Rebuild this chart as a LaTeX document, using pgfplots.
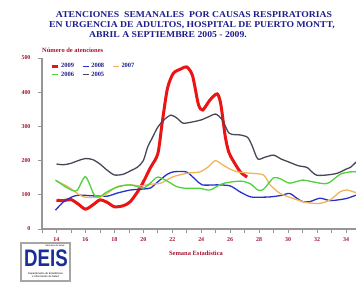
\documentclass[border=0pt]{standalone}
\usepackage{fontspec}
\setmainfont{Liberation Serif}
\setsansfont{Liberation Sans}
\usepackage{pgfplots}
\pgfplotsset{compat=1.18}
\definecolor{ttl}{RGB}{30,30,140}
\definecolor{dred}{RGB}{165,20,45}
\definecolor{c09}{RGB}{235,20,20}
\definecolor{c08}{RGB}{40,50,200}
\definecolor{c07}{RGB}{240,180,90}
\definecolor{c06}{RGB}{80,210,60}
\definecolor{c05}{RGB}{75,70,85}
\definecolor{axg}{RGB}{150,150,150}
\definecolor{logob}{RGB}{25,45,150}
\begin{document}
\begin{tikzpicture}[x=1bp,y=1bp]
\useasboundingbox (-42,-53) rectangle (314,229);
\begin{axis}[
  at={(0,0)}, anchor=south west,
  scale only axis, width=314bp, height=171bp,
  xmin=13, xmax=34.69, ymin=0, ymax=500,
  axis lines=left,
  axis line style={axg, line width=1.2bp, -},
  tick style={axg, line width=0.7bp},
  tick align=outside,
  major tick length=4bp, minor tick length=4bp,
  xtick={14,16,...,34}, minor xtick={13,15,...,33},
  ytick={0,100,...,500},
  /pgf/number format/assume math mode=true,
  ticklabel style={font=\bfseries\fontsize{6}{6}\selectfont, text=dred},
  yticklabel style={xshift=-4bp},
  xticklabel style={yshift=-1bp},
  legend columns=3,
  legend style={draw=none, fill=none, at={(0.025,0.98)}, anchor=north west,
    font=\bfseries\fontsize{6.5}{7}\selectfont, text=ttl,
    inner sep=0pt, row sep=-1.5pt,
    /tikz/every even column/.append style={column sep=6bp}},
  legend cell align=left,
  legend image code/.code={\draw[#1] (0bp,0bp) -- (6bp,0bp);},
  smooth, tension=0.45,
]
\addplot[c09, line width=3bp] coordinates {
(14,84) (14.5,83) (15,86) (15.5,73) (16,58) (16.5,70) (17,85) (17.5,78) (18,65)
(18.6,68) (19.1,80) (19.8,122) (20.5,180) (21,220) (21.3,310) (21.66,410)
(22.07,455) (22.6,468) (23.0,474) (23.4,448) (23.8,365) (24.1,348) (24.6,377)
(25.1,395) (25.35,365) (25.66,270) (25.9,225) (26.2,200) (26.7,167) (27.17,152)};
\addlegendentry{2009}
\addplot[c08, line width=1.3bp] coordinates {
(13.93,55) (14.5,80) (15.2,96) (15.7,99) (16.5,97) (17.5,96) (18.2,105) (19.1,114)
(20,117) (20.5,120) (21,138) (21.65,160) (22.07,167) (22.6,168) (23.03,166)
(23.6,145) (24.07,129) (25.1,129) (26,126) (26.7,108) (27.4,94) (28.1,93) (28.8,94)
(29.5,98) (30.1,104) (30.6,90) (31,80) (31.5,80) (32.2,90) (32.9,83) (33.6,86)
(34.1,90) (34.7,99)};
\addlegendentry{2008}
\addplot[c07, line width=1.3bp] coordinates {
(14,141) (14.76,124) (15.45,104) (15.86,94) (16.5,92) (17.03,93) (17.5,104)
(18.2,124) (19.1,129) (19.8,126) (20.5,131) (21.2,134) (22.07,153) (23.03,163)
(23.9,167) (24.5,182) (24.97,200) (25.5,187) (26,175) (26.5,167) (27.4,163)
(28.3,158) (28.76,129) (29.45,104) (30.3,90) (31.3,77) (32.2,75) (32.9,85)
(33.6,109) (34.07,114) (34.7,106)};
\addlegendentry{2007}
\addplot[c06, line width=1.3bp] coordinates {
(13.93,143) (14.76,120) (15.4,112) (16,153) (16.6,100) (17,95) (17.5,109)
(18.3,124) (19.1,129) (20,120) (20.5,135) (21,152) (21.65,140) (22.3,124)
(22.9,119) (23.9,119) (24.6,114) (25.5,133) (26.7,140) (27.4,132) (27.9,114)
(28.3,116) (29,150) (29.5,146) (30.1,134) (31,143) (31.7,138) (32.7,133)
(33.6,160) (34.3,167) (34.7,167)};
\addlegendentry{2006}
\addplot[c05, line width=1.3bp] coordinates {
(14,190) (14.5,188) (15,192) (15.5,200) (16,206) (16.5,203) (17,190) (17.5,172)
(18,158) (18.6,160) (19.2,172) (19.6,181) (20,200) (20.3,240) (20.6,265) (21,298)
(21.5,322) (21.9,333) (22.3,325) (22.7,310) (23,310) (23.5,314) (24,319)
(24.5,328) (25,336) (25.45,319) (25.9,281) (26.3,276) (26.7,275) (27.2,268)
(27.5,245) (27.9,205) (28.4,210) (29,216) (29.5,205) (30.1,195) (30.7,185)
(31.3,180) (31.7,165) (32,157) (32.7,158) (33.4,163) (34,175) (34.3,180) (34.7,196)};
\addlegendentry{2005}
\end{axis}
% titles
\begin{scope}[every node/.style={font=\bfseries\fontsize{9}{9}\selectfont, text=ttl, inner sep=0pt, xscale=1.08}]
\node at (152,214) {ATENCIONES\ \ SEMANALES\ \ POR CAUSAS RESPIRATORIAS};
\node at (150,204) {EN URGENCIA DE ADULTOS, HOSPITAL DE PUERTO MONTT,};
\node at (126,194) {ABRIL A SEPTIEMBRE 2005 - 2009.};
\end{scope}
\node[anchor=west, inner sep=0pt, font=\bfseries\fontsize{6.5}{7}\selectfont, text=dred] at (0,179) {Número de atenciones};
\node[inner sep=0pt, font=\bfseries\fontsize{6.5}{7}\selectfont, text=dred] at (154,-24) {Semana Estadística};
% logo
\draw[gray!70, line width=1.2bp, fill=white] (-21,-14) rectangle (28,-52);
\node[inner sep=0pt, font=\sffamily\bfseries\fontsize{24}{24}\selectfont, text=logob, xscale=0.78] at (4,-29.5) {DEIS};
\node[inner sep=0pt, font=\sffamily\fontsize{2.6}{3}\selectfont, text=black, align=center] at (3.5,-46.5) {Departamento de Estadísticas\\ e Información de Salud};
\node[inner sep=0pt, font=\sffamily\fontsize{2.2}{2.5}\selectfont, text=black] at (13,-17) {Ministerio de Salud};
\end{tikzpicture}
\end{document}
